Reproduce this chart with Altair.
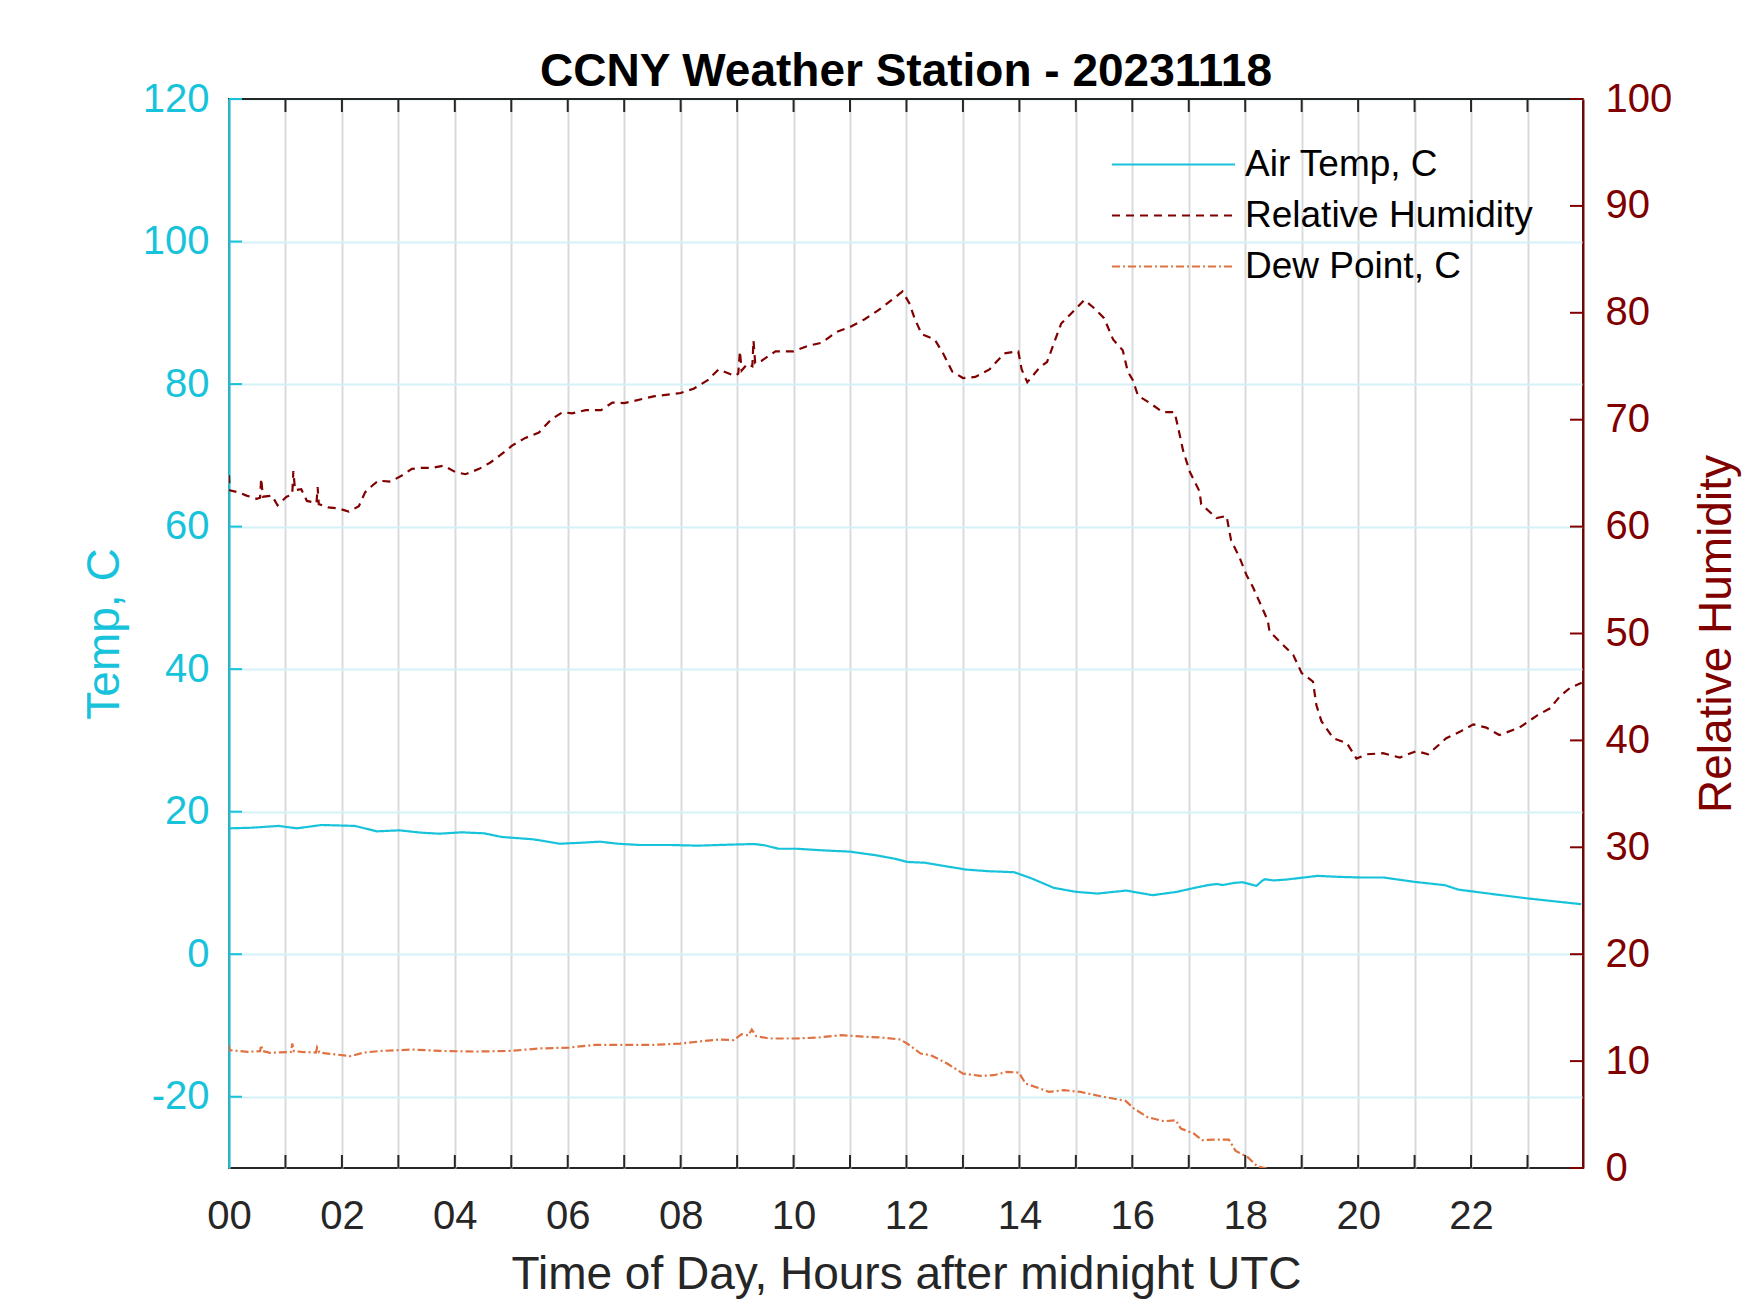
import altair as alt
import pandas as pd

# ---------------- data ----------------
temp_hours = [0.00, 0.41, 0.88, 1.20, 1.64, 2.23, 2.62, 3.02, 3.41, 3.73, 4.12, 4.52, 4.83,
              5.39, 5.86, 6.26, 6.57, 6.89, 7.28, 7.84, 8.31, 8.86, 9.30, 9.49, 9.73, 10.05,
              10.52, 11.00, 11.47, 11.79, 12.02, 12.32, 12.66, 13.05, 13.44, 13.91, 14.22,
              14.61, 15.00, 15.39, 15.89, 16.36, 16.79, 17.10, 17.33, 17.50, 17.60, 17.80,
              17.95, 18.05, 18.15, 18.20, 18.30, 18.35, 18.50, 18.74, 19.28, 19.67, 20.06,
              20.45, 21.00, 21.54, 21.77, 22.40, 23.02, 23.57, 23.95]
temp_values = [17.66, 17.75, 18.00, 17.66, 18.13, 18.00, 17.24, 17.38, 17.05, 16.91, 17.10,
               16.96, 16.45, 16.12, 15.50, 15.65, 15.79, 15.50, 15.32, 15.32, 15.23, 15.37,
               15.46, 15.28, 14.80, 14.80, 14.57, 14.39, 13.87, 13.40, 12.94, 12.84, 12.39,
               11.88, 11.65, 11.50, 10.62, 9.31, 8.75, 8.51, 8.93, 8.28, 8.75, 9.30, 9.68,
               9.85, 9.70, 10.00, 10.10, 9.90, 9.68, 9.60, 10.30, 10.52, 10.35, 10.48, 10.99,
               10.85, 10.76, 10.76, 10.15, 9.68, 9.07, 8.42, 7.81, 7.34, 7.02]

rh_hours = [0.00, 0.01, 0.17, 0.31, 0.49, 0.55, 0.57, 0.60, 0.76, 0.86, 1.02, 1.12, 1.14,
            1.17, 1.28, 1.38, 1.55, 1.57, 1.59, 1.76, 1.94, 2.12, 2.30, 2.41, 2.53, 2.65,
            2.86, 3.07, 3.24, 3.42, 3.60, 3.80, 4.01, 4.19, 4.43, 4.63, 4.81, 5.02, 5.25,
            5.49, 5.70, 5.91, 6.08, 6.32, 6.59, 6.79, 7.00, 7.54, 8.00, 8.23, 8.48, 8.67,
            8.96, 9.02, 9.05, 9.08, 9.18, 9.27, 9.29, 9.32, 9.43, 9.68, 10.00, 10.25, 10.50,
            10.76, 11.01, 11.26, 11.49, 11.74, 11.93, 12.05, 12.15, 12.27, 12.50, 12.65,
            12.81, 13.00, 13.22, 13.47, 13.73, 13.98, 14.04, 14.14, 14.36, 14.49, 14.58,
            14.74, 14.93, 15.15, 15.31, 15.50, 15.66, 15.83, 15.92, 16.01, 16.10, 16.30,
            16.54, 16.75, 16.81, 16.90, 17.02, 17.19, 17.22, 17.49, 17.67, 17.75, 17.90,
            18.02, 18.14, 18.30, 18.40, 18.43, 18.60, 18.85, 19.00, 19.20, 19.26, 19.35,
            19.56, 19.80, 19.97, 20.15, 20.44, 20.74, 21.03, 21.24, 21.56, 21.80, 22.04,
            22.27, 22.50, 22.86, 23.16, 23.40, 23.57, 23.75, 23.96]
rh_values = [64.8, 63.4, 63.2, 62.9, 62.6, 62.7, 64.5, 62.8, 62.9, 62.0, 62.8, 63.0, 65.2,
             63.4, 63.5, 62.4, 62.2, 63.7, 62.1, 61.8, 61.7, 61.4, 61.9, 63.2, 63.8, 64.3,
             64.2, 64.8, 65.4, 65.5, 65.5, 65.7, 65.1, 64.9, 65.4, 66.0, 66.7, 67.6, 68.3,
             68.8, 70.0, 70.7, 70.6, 70.9, 70.9, 71.6, 71.55, 72.2, 72.5, 72.9, 73.7, 74.7,
             74.1, 74.3, 76.4, 74.6, 75.2, 75.0, 77.4, 75.3, 75.5, 76.4, 76.4, 76.9, 77.2,
             78.2, 78.7, 79.4, 80.2, 81.2, 82.0, 80.9, 79.4, 78.0, 77.5, 76.2,
             74.5, 73.9, 74.0, 74.7, 76.2, 76.4, 74.7, 73.5, 74.9, 75.4, 76.7,
             79.0, 80.0, 81.2, 80.5, 79.5, 77.5, 76.5, 74.5, 73.7, 72.25, 71.6,
             70.7, 70.7, 69.3, 67.1, 65.1, 63.3, 62.1, 60.8, 61.0, 58.7, 57.1,
             55.5, 54.3, 52.4, 51.2, 50.2, 49.3, 48.0, 46.3, 45.5, 43.3, 41.8,
             40.2, 39.75, 38.3, 38.7, 38.8, 38.4, 39.0, 38.7, 40.2, 40.8, 41.5,
             41.2, 40.5, 41.2, 42.3, 43.0, 44.1, 44.9, 45.4]

dew_hours = [0.00, 0.01, 0.33, 0.55, 0.57, 0.60, 0.73, 1.10, 1.12, 1.15, 1.28, 1.54, 1.56,
             1.60, 1.75, 2.15, 2.39, 2.70, 3.25, 3.73, 4.36, 4.99, 5.47, 6.02, 6.49, 7.05,
             7.52, 7.99, 8.39, 8.70, 8.94, 9.08, 9.20, 9.26, 9.34, 9.57, 10.05, 10.44,
             10.84, 11.31, 11.54, 11.89, 12.01, 12.25, 12.43, 12.72, 13.00, 13.31, 13.55,
             13.78, 13.99, 14.11, 14.37, 14.52, 14.79, 15.08, 15.44, 15.88, 16.03, 16.26,
             16.56, 16.77, 16.86, 17.09, 17.24, 17.45, 17.71, 17.83, 18.04, 18.21, 18.39]
dew_values = [-12.77, -13.47, -13.70, -13.60, -12.77, -13.60, -13.84, -13.70, -12.54, -13.60,
              -13.70, -13.80, -13.10, -13.80, -13.94, -14.31, -13.80, -13.57, -13.38, -13.57,
              -13.66, -13.57, -13.24, -13.10, -12.72, -12.72, -12.72, -12.54, -12.20, -11.97,
              -12.07, -11.23, -11.40, -10.57, -11.51, -11.83, -11.83, -11.69, -11.36, -11.60,
              -11.69, -11.97, -12.53, -13.94, -14.17, -15.34, -16.75, -17.07, -16.98, -16.51,
              -16.61, -18.15, -18.85, -19.32, -19.08, -19.32, -19.93, -20.58, -21.66, -22.83,
              -23.44, -23.30, -24.46, -25.17, -26.10, -26.01, -26.01, -27.60, -28.44, -29.75,
              -30.10]

series_names = ["Air Temp, C", "Relative Humidity", "Dew Point, C"]
hour_ticks = list(range(0, 24))
temp_ticks = list(range(-20, 121, 20))
rh_ticks = list(range(0, 101, 10))

# ---------------- styling ----------------
W, H = 1354, 1069
CYAN = "#17C3DB"
DRED = "#800000"
ORANGE = "#DF7240"
DARK = "#262626"
FONT = "Liberation Sans"

left_df = pd.DataFrame({
    "hour": temp_hours + dew_hours,
    "value": temp_values + dew_values,
    "series": [series_names[0]] * len(temp_hours) + [series_names[2]] * len(dew_hours),
})
rh_df = pd.DataFrame({"hour": rh_hours, "value": rh_values, "series": series_names[1]})
xt_df = pd.DataFrame({"hour": hour_ticks[1:]})
tt_df = pd.DataFrame({"value": temp_ticks})
rt_df = pd.DataFrame({"value": rh_ticks})

xscale = alt.Scale(domain=[0, 23.983], nice=False, zero=False)
yl_scale = alt.Scale(domain=[-30, 120], nice=False, zero=False)
yr_scale = alt.Scale(domain=[0, 100], nice=False, zero=False)

legend = alt.Legend(
    title=None, orient="none", legendX=882, legendY=40, symbolType="stroke",
    symbolSize=15129, symbolStrokeWidth=2, labelFontSize=37, labelColor="black",
    labelFont=FONT, clipHeight=51, rowPadding=0, labelOffset=9, padding=0, labelLimit=0,
)
color = alt.Color("series:N", scale=alt.Scale(domain=series_names, range=[CYAN, DRED, ORANGE]),
                  legend=legend)
dash = alt.StrokeDash("series:N",
                      scale=alt.Scale(domain=series_names, range=[[1, 0], [8, 6], [8, 3, 2, 3]]),
                      legend=legend)

x_axis = alt.Axis(
    title="Time of Day, Hours after midnight UTC", values=hour_ticks,
    labelExpr="datum.value % 2 == 0 ? (datum.value < 10 ? '0' + datum.value : '' + datum.value) : ''",
    labelFontSize=40, labelColor=DARK, labelPadding=60, labelBaseline="alphabetic",
    labelFlush=False, labelOverlap=False, ticks=False, tickSize=0, domain=False,
    grid=True, gridColor="#D8DBDE", gridWidth=2,
    titleFontSize=46, titleFontWeight="normal", titleColor=DARK, titleX=W / 2, titleY=120,
    titleAlign="center", titleBaseline="alphabetic",
)
yl_axis = alt.Axis(
    title="Temp, C", orient="left", values=temp_ticks, labelExpr="'' + datum.value",
    labelFontSize=40, labelColor=CYAN, labelPadding=20, ticks=False, tickSize=0,
    domainColor=CYAN, domainWidth=2, grid=True, gridColor="#D4F1F6", gridWidth=2,
    titleFontSize=46, titleFontWeight="normal", titleColor=CYAN, titleAngle=270,
    titleX=-111, titleY=H / 2, titleAlign="center", titleBaseline="alphabetic",
)
yr_axis = alt.Axis(
    title="Relative Humidity", orient="right", values=rh_ticks, labelFontSize=40,
    labelColor=DRED, labelPadding=22, ticks=False, tickSize=0, domainColor=DRED,
    domainWidth=2, grid=False, titleFontSize=46, titleFontWeight="normal", titleColor=DRED,
    titleAngle=270, titleX=147, titleY=H / 2, titleAlign="center", titleBaseline="alphabetic",
)

left_lines = alt.Chart(left_df).mark_line(strokeWidth=2.2, clip=True).encode(
    x=alt.X("hour:Q", scale=xscale, axis=x_axis),
    y=alt.Y("value:Q", scale=yl_scale, axis=yl_axis),
    color=color, strokeDash=dash, detail="series:N",
)
left_ticks = alt.Chart(tt_df).mark_rule(color=CYAN, strokeWidth=2).encode(
    y=alt.Y("value:Q", scale=yl_scale, axis=yl_axis), x=alt.value(0), x2=alt.value(13))
bottom_ticks = alt.Chart(xt_df).mark_rule(color=DARK, strokeWidth=2).encode(
    x=alt.X("hour:Q", scale=xscale, axis=x_axis), y=alt.value(H), y2=alt.value(H - 13))
top_ticks = alt.Chart(xt_df).mark_rule(color=DARK, strokeWidth=2).encode(
    x=alt.X("hour:Q", scale=xscale, axis=x_axis), y=alt.value(0), y2=alt.value(13))
top_frame = alt.Chart(xt_df).mark_rule(color=DARK, strokeWidth=2).encode(
    x=alt.value(13), x2=alt.value(W), y=alt.value(0))

rh_line = alt.Chart(rh_df).mark_line(strokeWidth=2.2, clip=True).encode(
    x=alt.X("hour:Q", scale=xscale, axis=x_axis),
    y=alt.Y("value:Q", scale=yr_scale, axis=yr_axis),
    color=color, strokeDash=dash,
)
right_ticks = alt.Chart(rt_df).mark_rule(color=DRED, strokeWidth=2).encode(
    y=alt.Y("value:Q", scale=yr_scale, axis=yr_axis), x=alt.value(W), x2=alt.value(W - 13))

left = alt.layer(left_lines, left_ticks, bottom_ticks, top_ticks, top_frame)
right = alt.layer(rh_line, right_ticks)

chart = alt.layer(left, right).resolve_scale(y="independent").properties(
    width=W, height=H,
    title=alt.Title("CCNY Weather Station - 20231118", fontSize=46, fontWeight="bold",
                    color="black", font=FONT, anchor="middle", frame="group",
                    baseline="alphabetic", offset=0, dy=53),
    padding={"left": 221, "top": 91, "right": 159, "bottom": 137},
    autosize=alt.AutoSizeParams(type="none"),
).configure(font=FONT).configure_view(stroke=DARK, strokeWidth=2)

chart.save("out.html", embed_options={"renderer": "svg", "actions": False})
